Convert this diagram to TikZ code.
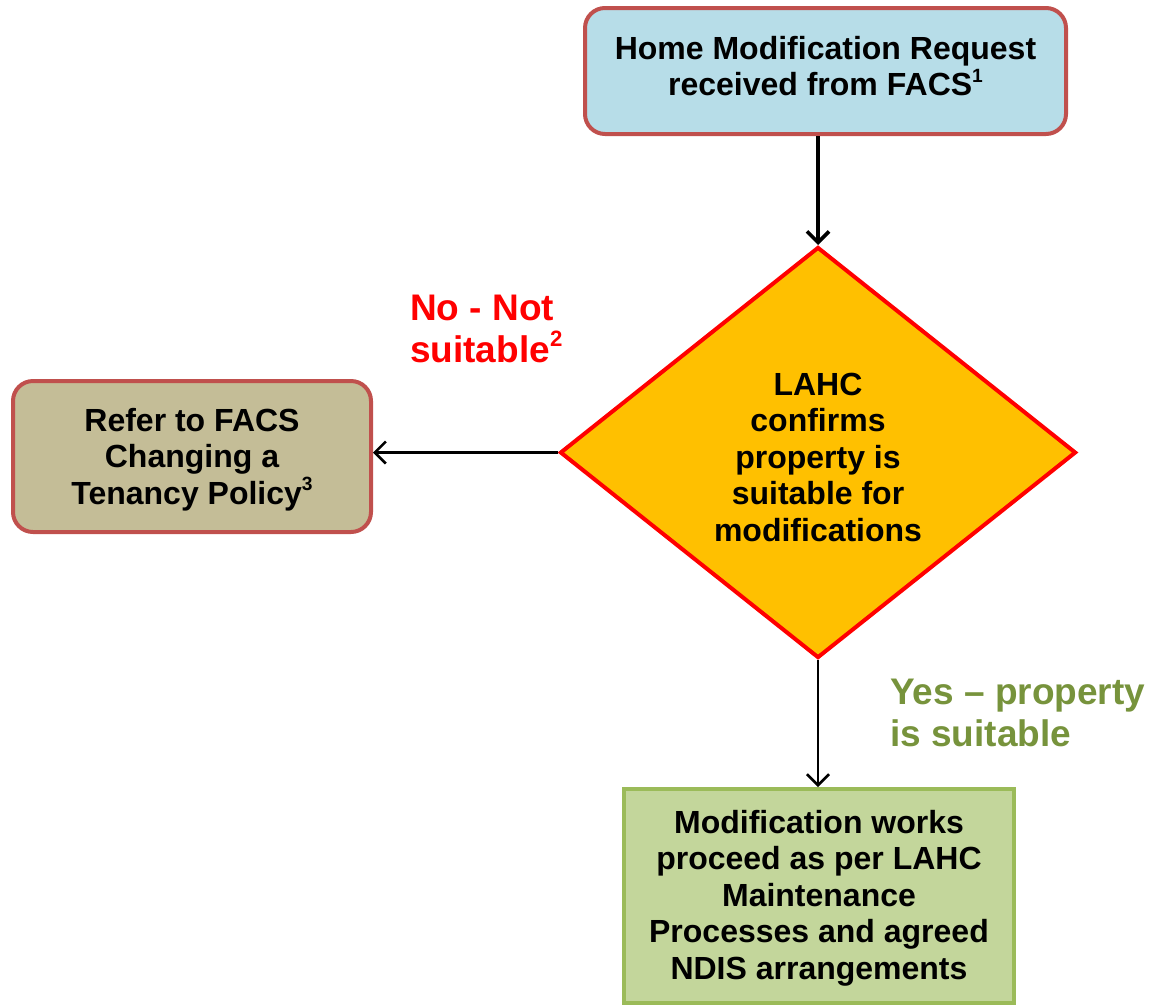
\documentclass[tikz,border=0pt]{standalone}
\usepackage{fontspec}
\setmainfont{Liberation Sans}
\usetikzlibrary{shapes.geometric,arrows.meta}
\definecolor{boxred}{HTML}{C0504D}
\definecolor{topfill}{HTML}{B7DDE8}
\definecolor{tanfill}{HTML}{C4BD97}
\definecolor{diafill}{HTML}{FFC000}
\definecolor{grnline}{HTML}{9BBB59}
\definecolor{grnfill}{HTML}{C3D69B}
\definecolor{yesgreen}{HTML}{77933C}
\newcommand{\mysup}[1]{\raisebox{0.42em}{\fontsize{0.6em}{0.6em}\selectfont #1}}
\begin{document}
\begin{tikzpicture}[x=1pt,y=-1pt,
  txt/.style={font=\bfseries\fontsize{32}{36.5}\selectfont, align=center},
  rbox/.style={draw=boxred, line width=4pt, rounded corners=20pt, inner sep=0pt},
  flow/.style={draw=black, line width=2.6pt, -{Straight Barb[length=11pt,width=22pt]}},
  lbl/.style={font=\bfseries\fontsize{37}{41.5}\selectfont, align=left, anchor=base west, inner sep=0pt}]
\useasboundingbox (0,0) rectangle (1153,1005);
\node[rbox, fill=topfill, minimum width=481pt, minimum height=126pt] (req) at (825.5,71) {};
\node[txt] (reqt) at (825.5,66) {Home Modification Request\\received from FACS\mysup{1}};
\node[diamond, draw=red, fill=diafill, line width=4pt, minimum width=516pt, minimum height=411pt, inner sep=0pt] (dia) at (818,452.5) {};
\node[txt] (diat) at (818,457) {LAHC\\confirms\\property is\\suitable for\\modifications};
\node[rbox, fill=tanfill, minimum width=358pt, minimum height=151pt] (ref) at (192,456.5) {};
\node[txt] (reft) at (192,459.5) {Refer to FACS\\Changing a\\Tenancy Policy\mysup{3}};
\node[draw=grnline, fill=grnfill, line width=4pt, minimum width=390pt, minimum height=214pt, inner sep=0pt] (mod) at (819,896) {};
\node[txt] (modt) at (819,898) {Modification works\\proceed as per LAHC\\Maintenance\\Processes and agreed\\NDIS arrangements};
\node[lbl, text=red] (no) at (410,362) {No - Not\\suitable\mysup{2}};
\node[lbl, text=yesgreen] (yes) at (890,746) {Yes -- property\\is suitable};
\draw[flow, line width=3.6pt] (req.south -| dia.north) -- (dia.north);
\draw[flow] (dia.west) -- (dia.west -| ref.east);
\draw[flow] (dia.south) -- (mod.north -| dia.south);
\end{tikzpicture}
\end{document}
